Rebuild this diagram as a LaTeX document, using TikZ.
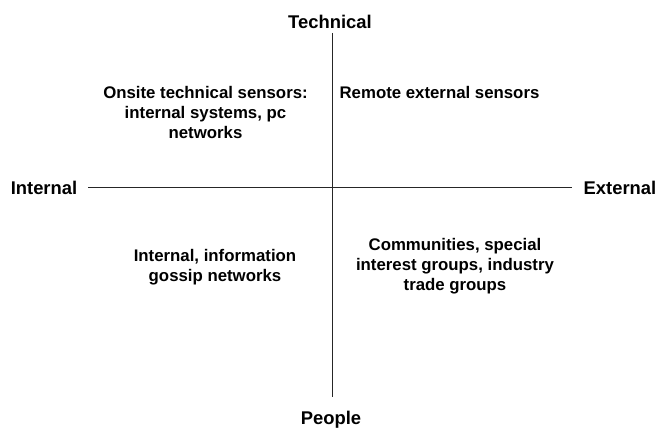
\documentclass[tikz,border=0pt]{standalone}
\usepackage{fontspec}
\setmainfont{Liberation Sans}
\begin{document}
\begin{tikzpicture}[x=1pt,y=-1pt,
  lbl/.style={font=\fontsize{16.8}{20}\selectfont\bfseries, align=center, inner sep=0pt},
  axlbl/.style={font=\fontsize{18.4}{22}\selectfont\bfseries, inner sep=0pt},
  axis/.style={line width=1pt, draw=black!85}]
\useasboundingbox (0,0) rectangle (658,430);
\node[axlbl] (tech) at (330,22) {Technical};
\node[axlbl] (people) at (331,420) {People};
\node[axlbl] (int) at (44,188) {Internal};
\node[axlbl] (ext) at (620,188) {External};
\coordinate (top) at (332.5,33);
\coordinate (bot) at (332.5,397);
\coordinate (left) at (88,188);
\coordinate (right) at (572,188);
\draw[axis] (top) -- (bot);
\draw[axis] (left) -- (right);
\node[lbl] (q1) at (205.5,112) {Onsite technical sensors:\\internal systems, pc\\networks};
\node[lbl] (q2) at (439.5,92) {Remote external sensors};
\node[lbl] (q3) at (215,267) {Internal, information\\gossip networks};
\node[lbl] (q4) at (455,266) {Communities, special\\interest groups, industry\\trade groups};
\end{tikzpicture}
\end{document}
